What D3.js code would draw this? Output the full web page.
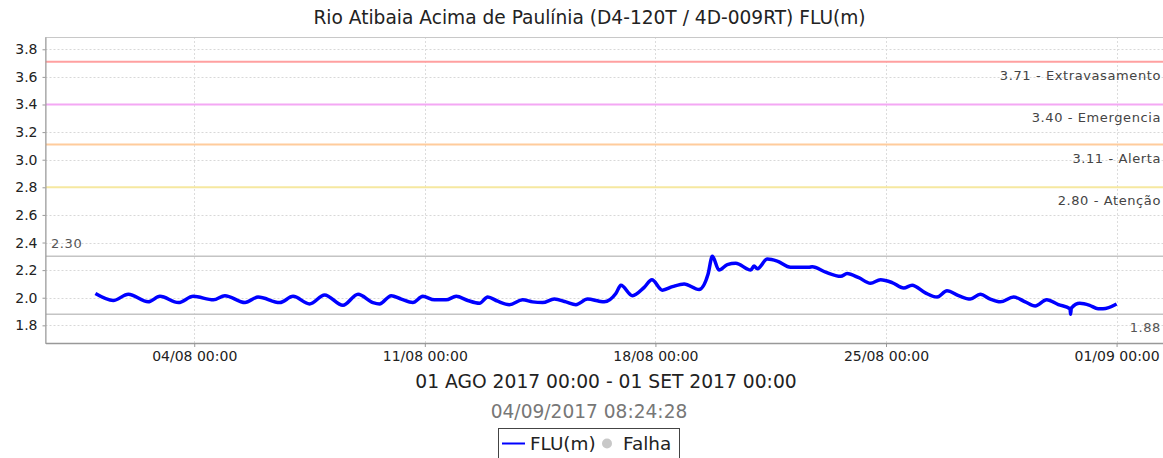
<!DOCTYPE html>
<html><head><meta charset="utf-8">
<script src="https://cdn.jsdelivr.net/npm/d3@7"></script>
<style>
html,body{margin:0;padding:0;background:#fff;overflow:hidden}
svg{display:block;font-family:"DejaVu Sans",sans-serif}
</style></head>
<body><svg id="c" width="1163" height="458"></svg>
<script>
const title = "Rio Atibaia Acima de Paulínia (D4-120T / 4D-009RT) FLU(m)";
const axisLabel = "01 AGO 2017 00:00 - 01 SET 2017 00:00";
const stamp = "04/09/2017 08:24:28";
const seriesName = "FLU(m)";
const failName = "Falha";

const times = ["2017-08-01 00:00","2017-08-01 13:00","2017-08-02 00:00","2017-08-02 14:30","2017-08-02 23:00",
"2017-08-03 12:30","2017-08-03 23:20","2017-08-04 14:00","2017-08-04 22:20","2017-08-05 13:00","2017-08-05 22:30",
"2017-08-06 14:20","2017-08-07 00:00","2017-08-07 12:00","2017-08-07 23:00","2017-08-08 12:20","2017-08-08 23:20",
"2017-08-09 10:10","2017-08-09 15:00","2017-08-09 23:30","2017-08-10 06:50","2017-08-10 15:15","2017-08-10 22:30",
"2017-08-11 07:00","2017-08-11 15:30","2017-08-11 22:50","2017-08-12 07:15","2017-08-12 15:50","2017-08-12 21:50",
"2017-08-13 05:05","2017-08-13 13:35","2017-08-13 23:15","2017-08-14 06:30","2017-08-14 13:50","2017-08-14 22:20",
"2017-08-15 06:50","2017-08-15 14:05","2017-08-15 22:35","2017-08-16 07:00","2017-08-16 10:40","2017-08-16 19:10",
"2017-08-16 22:50","2017-08-17 07:15","2017-08-17 15:50","2017-08-17 21:25","2017-08-18 05:05","2017-08-18 12:25",
"2017-08-18 20:55","2017-08-19 07:50","2017-08-19 14:20","2017-08-19 17:30","2017-08-19 22:20","2017-08-20 04:25",
"2017-08-20 10:30","2017-08-20 21:25","2017-08-20 23:50","2017-08-21 02:15","2017-08-21 09:30","2017-08-21 16:45",
"2017-08-22 02:30","2017-08-22 15:50","2017-08-22 18:15","2017-08-23 04:00","2017-08-23 15:00","2017-08-23 19:40",
"2017-08-24 04:10","2017-08-24 12:40","2017-08-24 20:00","2017-08-25 04:25","2017-08-25 12:55","2017-08-25 19:00",
"2017-08-26 04:40","2017-08-26 13:10","2017-08-26 20:25","2017-08-27 04:55","2017-08-27 13:25","2017-08-27 20:40",
"2017-08-28 04:00","2017-08-28 11:15","2017-08-28 20:55","2017-08-29 05:25","2017-08-29 12:40","2017-08-29 21:05",
"2017-08-30 05:35","2017-08-30 14:05","2017-08-30 14:30","2017-08-30 15:00","2017-08-30 21:10","2017-08-31 04:25",
"2017-08-31 10:30","2017-08-31 14:05","2017-09-01 00:00"];
const values = [2.03,1.98,2.025,1.97,2.01,
1.965,2.01,1.985,2.015,1.965,2.005,
1.965,2.01,1.955,2.02,1.945,2.025,
1.965,1.955,2.015,1.99,1.965,2.01,
1.985,1.985,2.01,1.98,1.96,2.005,
1.975,1.95,1.985,1.97,1.965,1.99,
1.97,1.95,1.99,1.975,1.97,2.03,
2.09,2.015,2.075,2.13,2.055,2.08,
2.10,2.06,2.17,2.30,2.20,2.24,
2.25,2.20,2.23,2.21,2.28,2.265,
2.22,2.22,2.225,2.185,2.155,2.175,
2.145,2.105,2.13,2.11,2.07,2.09,
2.035,2.005,2.05,2.015,1.99,2.025,
1.99,1.97,2.005,1.97,1.94,1.985,
1.95,1.92,1.88,1.925,1.96,1.945,
1.92,1.92,1.955];

const yTicks = [1.8,2.0,2.2,2.4,2.6,2.8,3.0,3.2,3.4,3.6,3.8];
const xTickDates = ["2017-08-04 00:00","2017-08-11 00:00","2017-08-18 00:00","2017-08-25 00:00","2017-09-01 00:00"];

const levelValues = [3.71,3.40,3.11,2.80];
const levelNames = ["Extravasamento","Emergencia","Alerta","Atenção"];
const levelColors = ["#ffa0a0","#f4a8f4","#ffcc9c","#f6e8a0"];
const maxValue = 2.30, minValue = 1.88;

const parse = d3.timeParse("%Y-%m-%d %H:%M");
const data = times.map((t,i)=>({t:parse(t), v:values[i]}));
const day = 864e5;
const t0 = parse("2017-08-01 00:00"), t1 = parse("2017-09-01 00:00");

const L = 45.5, R = 1166.5, T = 37, B = 343;
const x = d3.scaleTime().domain([new Date(+t0 - 1.515*day), new Date(+t1 + 1.515*day)]).range([L, R]);
const y = d3.scaleLinear().domain([1.672, 3.889]).range([B, T]);

const svg = d3.select("#c");

// gridlines
const grid = svg.append("g");
grid.selectAll(".hg").data(yTicks).join("line")
  .attr("x1", L).attr("x2", R).attr("y1", d=>Math.round(y(d))+0.5).attr("y2", d=>Math.round(y(d))+0.5)
  .attr("stroke", "#d8d8d8").attr("stroke-dasharray", "2,2");
grid.selectAll(".vg").data(xTickDates.map(parse)).join("line")
  .attr("x1", d=>Math.round(x(d))+0.5).attr("x2", d=>Math.round(x(d))+0.5).attr("y1", T).attr("y2", B)
  .attr("stroke", "#dcdcdc").attr("stroke-dasharray", "2,2");

// plot border (top/right)
svg.append("rect").attr("x", L).attr("y", T+0.5).attr("width", R-L).attr("height", B-T)
  .attr("fill", "none").attr("stroke", "#c8c8c8");

// level lines
levelValues.forEach((v,i)=>{
  const yy = y(v);
  svg.append("line").attr("x1", L).attr("x2", R).attr("y1", yy).attr("y2", yy)
    .attr("stroke", levelColors[i]).attr("stroke-width", 2);
  svg.append("text").attr("x", 1161).attr("y", yy+18).attr("text-anchor","end")
    .attr("font-size", 13).attr("fill", "#444").attr("letter-spacing", "0.6")
    .text(v.toFixed(2) + " - " + levelNames[i]);
});

// max/min lines
[maxValue, minValue].forEach(v=>{
  svg.append("line").attr("x1", L).attr("x2", R).attr("y1", y(v)).attr("y2", y(v))
    .attr("stroke", "#c4c4c4").attr("stroke-width", 1.5);
});
svg.append("text").attr("x", 51).attr("y", y(maxValue)-8).attr("font-size", 13)
  .attr("fill", "#555").attr("letter-spacing", "0.6").text(maxValue.toFixed(2));
svg.append("text").attr("x", 1161).attr("y", y(minValue)+18).attr("text-anchor","end").attr("font-size", 13)
  .attr("fill", "#555").attr("letter-spacing", "0.6").text(minValue.toFixed(2));

// axes
const yAxis = d3.axisLeft(y).tickValues(yTicks).tickFormat(d3.format(".1f")).tickSize(3).tickSizeOuter(0);
const gy = svg.append("g").attr("transform", `translate(${L},0)`).call(yAxis);
gy.select(".domain").attr("stroke", "#999");
gy.selectAll(".tick line").attr("stroke", "#999");
gy.selectAll(".tick text").attr("font-size", 14).attr("fill", "#222").attr("font-family", "DejaVu Sans").attr("x", -8);

const xAxis = d3.axisBottom(x).tickValues(xTickDates.map(parse)).tickFormat(d3.timeFormat("%d/%m %H:%M")).tickSize(4).tickSizeOuter(0);
const gx = svg.append("g").attr("transform", `translate(0,${B})`).call(xAxis);
gx.select(".domain").attr("stroke", "#999").attr("stroke-width", 1.5);
gx.selectAll(".tick line").attr("stroke", "#999");
gx.selectAll(".tick text").attr("font-size", 14).attr("fill", "#222").attr("font-family", "DejaVu Sans").attr("y", 8);

// series
const line = d3.line().x(d=>x(d.t)).y(d=>y(d.v)).curve(d3.curveMonotoneX);
svg.append("path").datum(data).attr("d", line).attr("fill","none")
  .attr("stroke", "#0000ff").attr("stroke-width", 3.5).attr("stroke-linejoin","round");

// titles
svg.append("text").attr("x", 589.5).attr("y", 24).attr("text-anchor","middle").attr("font-size", 18.6)
  .attr("fill", "#222").text(title);
svg.append("text").attr("x", (L+R)/2).attr("y", 388).attr("text-anchor","middle").attr("font-size", 18.7)
  .attr("fill", "#222").text(axisLabel);
svg.append("text").attr("x", 589).attr("y", 418).attr("text-anchor","middle").attr("font-size", 18.6)
  .attr("fill", "#777").text(stamp);

// legend
const lg = svg.append("g");
lg.append("rect").attr("x", 498.5).attr("y", 428.5).attr("width", 181).attr("height", 40)
  .attr("fill", "#fff").attr("stroke", "#444");
lg.append("line").attr("x1", 502).attr("x2", 525).attr("y1", 443.5).attr("y2", 443.5)
  .attr("stroke", "#0000ff").attr("stroke-width", 2);
lg.append("text").attr("x", 530).attr("y", 450).attr("font-size", 18.4).attr("fill", "#222").text(seriesName);
lg.append("circle").attr("cx", 607).attr("cy", 443.5).attr("r", 5).attr("fill", "#c8c8c8");
lg.append("text").attr("x", 623).attr("y", 450).attr("font-size", 18.4).attr("fill", "#222").text(failName);
</script></body></html>
